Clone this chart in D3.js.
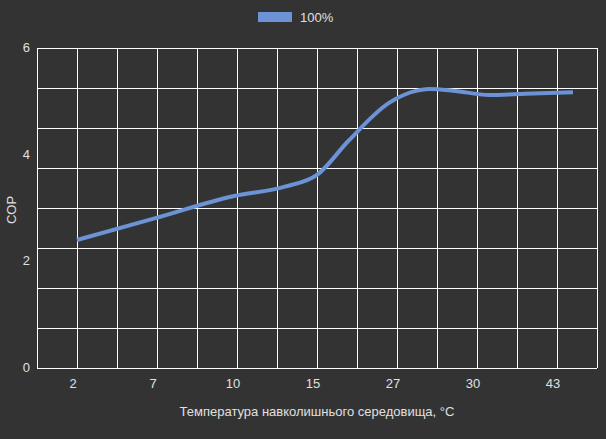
<!doctype html>
<html>
<head>
<script src="https://d3js.org/d3.v7.min.js"></script>
<style>body{margin:0;background:#333333;}</style>
</head>
<body>
<script>
// categories and the COP curve (x as fractional category index)
var categories = ["2", "7", "10", "15", "27", "30", "43"];
var curveX = [0, 0.98, 1.95, 2.6, 3.0, 3.4, 3.9, 4.25, 4.4, 4.7, 5.15, 5.6, 6.2];
var curveY = [2.4, 2.81, 3.22, 3.4, 3.62, 4.27, 4.97, 5.2, 5.23, 5.2, 5.12, 5.14, 5.17];
var yTicks = [0, 2, 4, 6];
var seriesName = "100%";

var width = 606, height = 439;
var margin = {top: 48, right: 9, bottom: 71, left: 37};

var svg = d3.select("body").append("svg")
    .attr("width", width).attr("height", height)
    .style("font-family", "Liberation Sans, Arial, sans-serif");

var xScale = d3.scaleLinear().domain([-0.5, categories.length - 0.5])
    .range([margin.left, width - margin.right]);
var yScale = d3.scaleLinear().domain([0, 6])
    .range([height - margin.bottom, margin.top]);

// grid: lines every 0.75 COP and every half category
var grid = svg.append("g").attr("stroke", "#ffffff").attr("stroke-width", 1);
d3.range(0, 6.01, 0.75).forEach(function (v) {
  grid.append("line").attr("x1", xScale.range()[0]).attr("x2", xScale.range()[1])
    .attr("y1", Math.round(yScale(v)) + 0.5).attr("y2", Math.round(yScale(v)) + 0.5);
});
d3.range(-0.5, categories.length - 0.49, 0.5).forEach(function (v) {
  grid.append("line").attr("y1", yScale(0)).attr("y2", yScale(6))
    .attr("x1", Math.round(xScale(v)) + 0.5).attr("x2", Math.round(xScale(v)) + 0.5);
});

// axis labels
svg.append("g").selectAll("text").data(yTicks).join("text")
  .attr("x", 30).attr("y", function (d) { return yScale(d) + 4; })
  .attr("text-anchor", "end").attr("fill", "#e0e0e0").attr("font-size", 13)
  .text(function (d) { return d; });

svg.append("g").selectAll("text").data(categories).join("text")
  .attr("x", function (d, i) { return xScale(i) - 4; }).attr("y", 388)
  .attr("text-anchor", "middle").attr("fill", "#e0e0e0").attr("font-size", 13)
  .text(function (d) { return d; });

svg.append("text").attr("x", 317).attr("y", 416).attr("text-anchor", "middle")
  .attr("fill", "#e0e0e0").attr("font-size", 13)
  .text("Температура навколишнього середовища, °C");

svg.append("text").attr("transform", "translate(16,210) rotate(-90)")
  .attr("text-anchor", "middle").attr("fill", "#e0e0e0").attr("font-size", 13)
  .text("COP");

// the line
var pts = curveX.map(function (x, i) { return [x, curveY[i]]; });
svg.append("path").datum(pts)
  .attr("fill", "none").attr("stroke", "#6b93d6").attr("stroke-width", 4)
  .attr("d", d3.line().curve(d3.curveMonotoneX)
    .x(function (d) { return xScale(d[0]); })
    .y(function (d) { return yScale(d[1]); }));

// legend
svg.append("rect").attr("x", 258).attr("y", 12).attr("width", 34).attr("height", 10)
  .attr("fill", "#6b93d6");
svg.append("text").attr("x", 300).attr("y", 22).attr("fill", "#e0e0e0")
  .attr("font-size", 13).text(seriesName);
</script>
</body>
</html>
